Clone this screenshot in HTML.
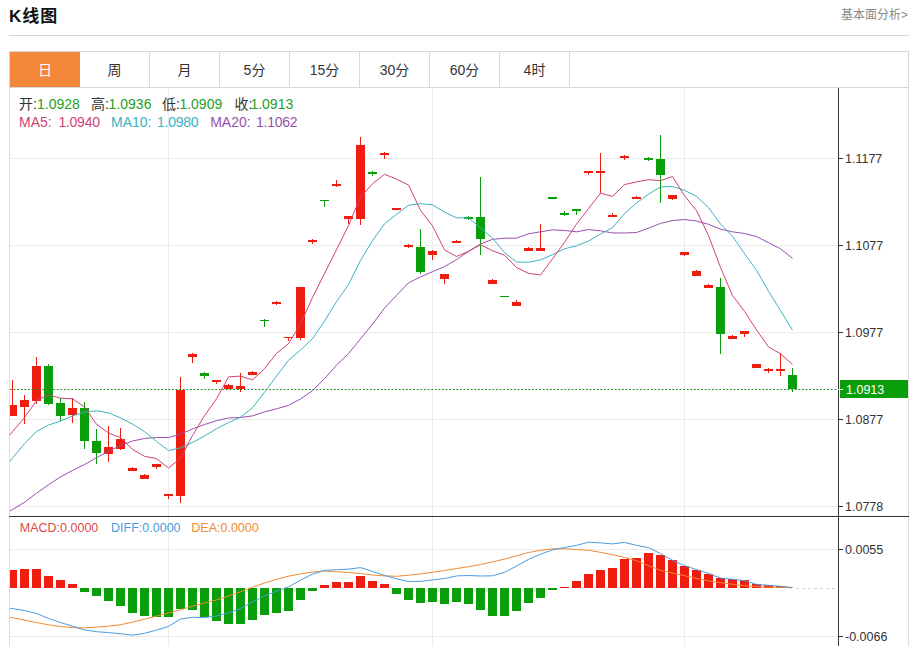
<!DOCTYPE html>
<html lang="zh-CN">
<head>
<meta charset="utf-8">
<title>K线图</title>
<style>
html,body{margin:0;padding:0;background:#fff;}
body{width:917px;height:646px;overflow:hidden;position:relative;font-family:"Liberation Sans","Noto Sans CJK SC",sans-serif;}
.title{position:absolute;left:9px;top:5px;letter-spacing:1px;font-size:17px;font-weight:bold;color:#111;line-height:24px;white-space:nowrap;}
.more{position:absolute;right:9px;top:7px;font-size:12px;color:#888;line-height:16px;white-space:nowrap;}
.hr{position:absolute;left:9px;top:35px;width:900px;height:1px;background:#d6d6d6;}
.tabs{position:absolute;left:9px;top:51px;width:898px;height:35px;border:1px solid #d8d8d8;}
.tab{position:absolute;top:0;height:35px;width:70px;text-align:center;line-height:37px;font-size:14px;color:#333;border-right:1px solid #d8d8d8;box-sizing:border-box;}
.tab.on{background:#f3883a;color:#fff;border-right:none;}
.frame{position:absolute;left:9px;top:87px;width:898px;height:570px;border-left:1px solid #dcdcdc;border-right:1px solid #dcdcdc;}
.lg text{font-family:"Liberation Sans","Noto Sans CJK SC",sans-serif;}
.ax{font-family:"Liberation Sans",sans-serif;font-size:12.5px;fill:#333;}
</style>
</head>
<body>
<div class="title">K线图</div>
<div class="more">基本面分析&gt;</div>
<div class="hr"></div>
<div class="frame"></div>
<div class="tabs">
<div class="tab on" style="left:0">日</div>
<div class="tab" style="left:70px">周</div>
<div class="tab" style="left:140px">月</div>
<div class="tab" style="left:210px">5分</div>
<div class="tab" style="left:280px">15分</div>
<div class="tab" style="left:350px">30分</div>
<div class="tab" style="left:420px">60分</div>
<div class="tab" style="left:490px">4时</div>
</div>
<svg width="917" height="646" viewBox="0 0 917 646" style="position:absolute;left:0;top:0"><defs><clipPath id="cp"><rect x="10" y="88" width="828" height="558"/></clipPath></defs><g clip-path="url(#cp)" shape-rendering="crispEdges"><line x1="10" y1="158.5" x2="843" y2="158.5" stroke="#ebebeb" />
<line x1="10" y1="245.5" x2="843" y2="245.5" stroke="#ebebeb" />
<line x1="10" y1="332.5" x2="843" y2="332.5" stroke="#ebebeb" />
<line x1="10" y1="419.5" x2="843" y2="419.5" stroke="#ebebeb" />
<line x1="10" y1="506.5" x2="843" y2="506.5" stroke="#ebebeb" />
<line x1="10" y1="549.5" x2="843" y2="549.5" stroke="#ebebeb" />
<line x1="10" y1="636.5" x2="843" y2="636.5" stroke="#ebebeb" />
<line x1="168.5" y1="88" x2="168.5" y2="646" stroke="#e9ecf1" />
<line x1="432.5" y1="88" x2="432.5" y2="646" stroke="#e9ecf1" />
<line x1="684.5" y1="88" x2="684.5" y2="646" stroke="#e9ecf1" />
<rect x="12.0" y="380" width="1" height="36" fill="#ee1d10"/>
<rect x="8.0" y="405" width="9" height="11" fill="#ee1d10"/>
<rect x="24.0" y="395" width="1" height="29" fill="#ee1d10"/>
<rect x="20.0" y="400" width="9" height="7" fill="#ee1d10"/>
<rect x="36.0" y="357" width="1" height="47" fill="#ee1d10"/>
<rect x="32.0" y="366" width="9" height="35" fill="#ee1d10"/>
<rect x="48.0" y="364" width="1" height="41" fill="#0a9e0a"/>
<rect x="44.0" y="366" width="9" height="38" fill="#0a9e0a"/>
<rect x="60.0" y="398" width="1" height="23" fill="#0a9e0a"/>
<rect x="56.0" y="403" width="9" height="13" fill="#0a9e0a"/>
<rect x="72.0" y="398" width="1" height="25" fill="#ee1d10"/>
<rect x="68.0" y="408" width="9" height="7" fill="#ee1d10"/>
<rect x="84.0" y="402" width="1" height="47" fill="#0a9e0a"/>
<rect x="80.0" y="408" width="9" height="33" fill="#0a9e0a"/>
<rect x="96.0" y="429" width="1" height="35" fill="#0a9e0a"/>
<rect x="92.0" y="441" width="9" height="12" fill="#0a9e0a"/>
<rect x="108.0" y="426" width="1" height="36" fill="#ee1d10"/>
<rect x="104.0" y="447" width="9" height="7" fill="#ee1d10"/>
<rect x="120.0" y="428" width="1" height="22" fill="#ee1d10"/>
<rect x="116.0" y="439" width="9" height="10" fill="#ee1d10"/>
<rect x="132.0" y="467" width="1" height="4" fill="#ee1d10"/>
<rect x="128.0" y="468" width="9" height="3" fill="#ee1d10"/>
<rect x="144.0" y="474" width="1" height="5" fill="#ee1d10"/>
<rect x="140.0" y="475" width="9" height="4" fill="#ee1d10"/>
<rect x="156.0" y="464" width="1" height="5" fill="#ee1d10"/>
<rect x="152.0" y="464" width="9" height="3" fill="#ee1d10"/>
<rect x="168.0" y="494" width="1" height="5" fill="#ee1d10"/>
<rect x="164.0" y="494" width="9" height="2" fill="#ee1d10"/>
<rect x="180.0" y="377" width="1" height="126" fill="#ee1d10"/>
<rect x="176.0" y="390" width="9" height="106" fill="#ee1d10"/>
<rect x="192.0" y="353" width="1" height="10" fill="#ee1d10"/>
<rect x="188.0" y="354" width="9" height="3" fill="#ee1d10"/>
<rect x="204.0" y="372" width="1" height="7" fill="#0a9e0a"/>
<rect x="200.0" y="373" width="9" height="3" fill="#0a9e0a"/>
<rect x="216.0" y="380" width="1" height="4" fill="#ee1d10"/>
<rect x="212.0" y="380" width="9" height="2" fill="#ee1d10"/>
<rect x="228.0" y="384" width="1" height="5" fill="#ee1d10"/>
<rect x="224.0" y="385" width="9" height="4" fill="#ee1d10"/>
<rect x="240.0" y="373" width="1" height="19" fill="#ee1d10"/>
<rect x="236.0" y="386" width="9" height="3" fill="#ee1d10"/>
<rect x="252.0" y="371" width="1" height="4" fill="#ee1d10"/>
<rect x="248.0" y="372" width="9" height="3" fill="#ee1d10"/>
<rect x="264.0" y="319" width="1" height="8" fill="#0a9e0a"/>
<rect x="260.0" y="320" width="9" height="1" fill="#0a9e0a"/>
<rect x="276.0" y="301" width="1" height="4" fill="#ee1d10"/>
<rect x="272.0" y="302" width="9" height="2" fill="#ee1d10"/>
<rect x="288.0" y="337" width="1" height="4" fill="#ee1d10"/>
<rect x="284.0" y="337" width="9" height="1" fill="#ee1d10"/>
<rect x="300.0" y="287" width="1" height="53" fill="#ee1d10"/>
<rect x="296.0" y="287" width="9" height="51" fill="#ee1d10"/>
<rect x="312.0" y="239" width="1" height="5" fill="#ee1d10"/>
<rect x="308.0" y="240" width="9" height="2" fill="#ee1d10"/>
<rect x="324.0" y="200" width="1" height="7" fill="#0a9e0a"/>
<rect x="320.0" y="200" width="9" height="1" fill="#0a9e0a"/>
<rect x="336.0" y="180" width="1" height="7" fill="#ee1d10"/>
<rect x="332.0" y="184" width="9" height="2" fill="#ee1d10"/>
<rect x="348.0" y="216" width="1" height="8" fill="#ee1d10"/>
<rect x="344.0" y="216" width="9" height="3" fill="#ee1d10"/>
<rect x="360.0" y="137" width="1" height="88" fill="#ee1d10"/>
<rect x="356.0" y="145" width="9" height="74" fill="#ee1d10"/>
<rect x="372.0" y="171" width="1" height="5" fill="#0a9e0a"/>
<rect x="368.0" y="172" width="9" height="2" fill="#0a9e0a"/>
<rect x="384.0" y="152" width="1" height="7" fill="#ee1d10"/>
<rect x="380.0" y="153" width="9" height="2" fill="#ee1d10"/>
<rect x="396.0" y="208" width="1" height="2" fill="#ee1d10"/>
<rect x="392.0" y="208" width="9" height="2" fill="#ee1d10"/>
<rect x="408.0" y="244" width="1" height="4" fill="#ee1d10"/>
<rect x="404.0" y="245" width="9" height="2" fill="#ee1d10"/>
<rect x="420.0" y="229" width="1" height="45" fill="#0a9e0a"/>
<rect x="416.0" y="247" width="9" height="25" fill="#0a9e0a"/>
<rect x="432.0" y="250" width="1" height="10" fill="#ee1d10"/>
<rect x="428.0" y="251" width="9" height="4" fill="#ee1d10"/>
<rect x="444.0" y="274" width="1" height="10" fill="#ee1d10"/>
<rect x="440.0" y="274" width="9" height="5" fill="#ee1d10"/>
<rect x="456.0" y="240" width="1" height="3" fill="#ee1d10"/>
<rect x="452.0" y="241" width="9" height="2" fill="#ee1d10"/>
<rect x="468.0" y="216" width="1" height="4" fill="#0a9e0a"/>
<rect x="464.0" y="217" width="9" height="2" fill="#0a9e0a"/>
<rect x="480.0" y="177" width="1" height="78" fill="#0a9e0a"/>
<rect x="476.0" y="217" width="9" height="22" fill="#0a9e0a"/>
<rect x="492.0" y="279" width="1" height="5" fill="#ee1d10"/>
<rect x="488.0" y="280" width="9" height="4" fill="#ee1d10"/>
<rect x="504.0" y="296" width="1" height="1" fill="#0a9e0a"/>
<rect x="500.0" y="296" width="9" height="1" fill="#0a9e0a"/>
<rect x="516.0" y="300" width="1" height="6" fill="#ee1d10"/>
<rect x="512.0" y="302" width="9" height="4" fill="#ee1d10"/>
<rect x="528.0" y="247" width="1" height="4" fill="#ee1d10"/>
<rect x="524.0" y="248" width="9" height="3" fill="#ee1d10"/>
<rect x="540.0" y="224" width="1" height="27" fill="#ee1d10"/>
<rect x="536.0" y="248" width="9" height="3" fill="#ee1d10"/>
<rect x="552.0" y="197" width="1" height="2" fill="#0a9e0a"/>
<rect x="548.0" y="197" width="9" height="2" fill="#0a9e0a"/>
<rect x="564.0" y="211" width="1" height="5" fill="#0a9e0a"/>
<rect x="560.0" y="213" width="9" height="2" fill="#0a9e0a"/>
<rect x="576.0" y="209" width="1" height="6" fill="#0a9e0a"/>
<rect x="572.0" y="209" width="9" height="2" fill="#0a9e0a"/>
<rect x="588.0" y="171" width="1" height="4" fill="#ee1d10"/>
<rect x="584.0" y="171" width="9" height="2" fill="#ee1d10"/>
<rect x="600.0" y="153" width="1" height="40" fill="#ee1d10"/>
<rect x="596.0" y="171" width="9" height="2" fill="#ee1d10"/>
<rect x="612.0" y="213" width="1" height="4" fill="#ee1d10"/>
<rect x="608.0" y="215" width="9" height="2" fill="#ee1d10"/>
<rect x="624.0" y="155" width="1" height="5" fill="#ee1d10"/>
<rect x="620.0" y="156" width="9" height="2" fill="#ee1d10"/>
<rect x="636.0" y="196" width="1" height="3" fill="#ee1d10"/>
<rect x="632.0" y="197" width="9" height="2" fill="#ee1d10"/>
<rect x="648.0" y="157" width="1" height="4" fill="#0a9e0a"/>
<rect x="644.0" y="158" width="9" height="2" fill="#0a9e0a"/>
<rect x="660.0" y="135" width="1" height="68" fill="#0a9e0a"/>
<rect x="656.0" y="159" width="9" height="16" fill="#0a9e0a"/>
<rect x="672.0" y="195" width="1" height="5" fill="#ee1d10"/>
<rect x="668.0" y="195" width="9" height="4" fill="#ee1d10"/>
<rect x="684.0" y="252" width="1" height="4" fill="#ee1d10"/>
<rect x="680.0" y="252" width="9" height="3" fill="#ee1d10"/>
<rect x="696.0" y="270" width="1" height="6" fill="#ee1d10"/>
<rect x="692.0" y="271" width="9" height="5" fill="#ee1d10"/>
<rect x="708.0" y="284" width="1" height="4" fill="#ee1d10"/>
<rect x="704.0" y="285" width="9" height="3" fill="#ee1d10"/>
<rect x="720.0" y="278" width="1" height="76" fill="#0a9e0a"/>
<rect x="716.0" y="287" width="9" height="47" fill="#0a9e0a"/>
<rect x="732.0" y="335" width="1" height="4" fill="#ee1d10"/>
<rect x="728.0" y="336" width="9" height="3" fill="#ee1d10"/>
<rect x="744.0" y="331" width="1" height="6" fill="#ee1d10"/>
<rect x="740.0" y="331" width="9" height="3" fill="#ee1d10"/>
<rect x="756.0" y="364" width="1" height="4" fill="#ee1d10"/>
<rect x="752.0" y="364" width="9" height="4" fill="#ee1d10"/>
<rect x="768.0" y="368" width="1" height="5" fill="#ee1d10"/>
<rect x="764.0" y="369" width="9" height="2" fill="#ee1d10"/>
<rect x="780.0" y="353" width="1" height="23" fill="#ee1d10"/>
<rect x="776.0" y="369" width="9" height="2" fill="#ee1d10"/>
<rect x="792.0" y="368" width="1" height="24" fill="#0a9e0a"/>
<rect x="788.0" y="375" width="9" height="14" fill="#0a9e0a"/>
<rect x="8.0" y="570" width="9" height="18" fill="#ee1d10"/>
<rect x="20.0" y="569" width="9" height="19" fill="#ee1d10"/>
<rect x="32.0" y="569" width="9" height="19" fill="#ee1d10"/>
<rect x="44.0" y="576" width="9" height="12" fill="#ee1d10"/>
<rect x="56.0" y="580" width="9" height="8" fill="#ee1d10"/>
<rect x="68.0" y="584" width="9" height="4" fill="#ee1d10"/>
<rect x="80.0" y="588" width="9" height="4" fill="#0a9e0a"/>
<rect x="92.0" y="588" width="9" height="8" fill="#0a9e0a"/>
<rect x="104.0" y="588" width="9" height="13" fill="#0a9e0a"/>
<rect x="116.0" y="588" width="9" height="18" fill="#0a9e0a"/>
<rect x="128.0" y="588" width="9" height="25" fill="#0a9e0a"/>
<rect x="140.0" y="588" width="9" height="28" fill="#0a9e0a"/>
<rect x="152.0" y="588" width="9" height="29" fill="#0a9e0a"/>
<rect x="164.0" y="588" width="9" height="29" fill="#0a9e0a"/>
<rect x="176.0" y="588" width="9" height="21" fill="#0a9e0a"/>
<rect x="188.0" y="588" width="9" height="22" fill="#0a9e0a"/>
<rect x="200.0" y="588" width="9" height="29" fill="#0a9e0a"/>
<rect x="212.0" y="588" width="9" height="33" fill="#0a9e0a"/>
<rect x="224.0" y="588" width="9" height="36" fill="#0a9e0a"/>
<rect x="236.0" y="588" width="9" height="36" fill="#0a9e0a"/>
<rect x="248.0" y="588" width="9" height="32" fill="#0a9e0a"/>
<rect x="260.0" y="588" width="9" height="27" fill="#0a9e0a"/>
<rect x="272.0" y="588" width="9" height="25" fill="#0a9e0a"/>
<rect x="284.0" y="588" width="9" height="23" fill="#0a9e0a"/>
<rect x="296.0" y="588" width="9" height="12" fill="#0a9e0a"/>
<rect x="308.0" y="588" width="9" height="3" fill="#0a9e0a"/>
<rect x="320.0" y="585" width="9" height="3" fill="#ee1d10"/>
<rect x="332.0" y="582" width="9" height="6" fill="#ee1d10"/>
<rect x="344.0" y="582" width="9" height="6" fill="#ee1d10"/>
<rect x="356.0" y="576" width="9" height="12" fill="#ee1d10"/>
<rect x="368.0" y="581" width="9" height="7" fill="#ee1d10"/>
<rect x="380.0" y="584" width="9" height="4" fill="#ee1d10"/>
<rect x="392.0" y="588" width="9" height="6" fill="#0a9e0a"/>
<rect x="404.0" y="588" width="9" height="12" fill="#0a9e0a"/>
<rect x="416.0" y="588" width="9" height="15" fill="#0a9e0a"/>
<rect x="428.0" y="588" width="9" height="14" fill="#0a9e0a"/>
<rect x="440.0" y="588" width="9" height="16" fill="#0a9e0a"/>
<rect x="452.0" y="588" width="9" height="14" fill="#0a9e0a"/>
<rect x="464.0" y="588" width="9" height="16" fill="#0a9e0a"/>
<rect x="476.0" y="588" width="9" height="22" fill="#0a9e0a"/>
<rect x="488.0" y="588" width="9" height="28" fill="#0a9e0a"/>
<rect x="500.0" y="588" width="9" height="28" fill="#0a9e0a"/>
<rect x="512.0" y="588" width="9" height="23" fill="#0a9e0a"/>
<rect x="524.0" y="588" width="9" height="15" fill="#0a9e0a"/>
<rect x="536.0" y="588" width="9" height="10" fill="#0a9e0a"/>
<rect x="548.0" y="588" width="9" height="2" fill="#0a9e0a"/>
<rect x="560.0" y="587" width="9" height="1" fill="#ee1d10"/>
<rect x="572.0" y="581" width="9" height="7" fill="#ee1d10"/>
<rect x="584.0" y="574" width="9" height="14" fill="#ee1d10"/>
<rect x="596.0" y="570" width="9" height="18" fill="#ee1d10"/>
<rect x="608.0" y="568" width="9" height="20" fill="#ee1d10"/>
<rect x="620.0" y="559" width="9" height="29" fill="#ee1d10"/>
<rect x="632.0" y="558" width="9" height="30" fill="#ee1d10"/>
<rect x="644.0" y="553" width="9" height="35" fill="#ee1d10"/>
<rect x="656.0" y="555" width="9" height="33" fill="#ee1d10"/>
<rect x="668.0" y="560" width="9" height="28" fill="#ee1d10"/>
<rect x="680.0" y="566" width="9" height="22" fill="#ee1d10"/>
<rect x="692.0" y="570" width="9" height="18" fill="#ee1d10"/>
<rect x="704.0" y="574" width="9" height="14" fill="#ee1d10"/>
<rect x="716.0" y="578" width="9" height="10" fill="#ee1d10"/>
<rect x="728.0" y="579" width="9" height="9" fill="#ee1d10"/>
<rect x="740.0" y="580" width="9" height="8" fill="#ee1d10"/>
<rect x="752.0" y="584" width="9" height="4" fill="#ee1d10"/>
<rect x="764.0" y="585" width="9" height="3" fill="#ee1d10"/>
<rect x="776.0" y="586" width="9" height="2" fill="#ee1d10"/>
<line x1="796" y1="588.5" x2="838" y2="588.5" stroke="#c8d0dc" stroke-dasharray="3,3" /></g><polyline clip-path="url(#cp)" points="0.5,516.9 12.5,509.6 24.5,502.3 36.5,493.2 48.5,484.8 60.5,476.9 72.5,470.5 84.5,464.5 96.5,457.7 108.5,451.3 120.5,445.5 132.5,441.0 144.5,438.5 156.5,437.5 168.5,437.5 180.5,434.2 192.5,429.0 204.5,424.5 216.5,420.7 228.5,418.0 240.5,417.5 252.5,415.9 264.5,411.9 276.5,408.8 288.5,405.4 300.5,399.0 312.5,390.6 324.5,378.6 336.5,365.1 348.5,353.6 360.5,338.9 372.5,324.2 384.5,308.1 396.5,295.3 408.5,282.8 420.5,276.9 432.5,271.7 444.5,266.6 456.5,259.7 468.5,251.4 480.5,244.0 492.5,239.4 504.5,238.2 516.5,238.2 528.5,233.8 540.5,231.8 552.5,229.8 564.5,230.5 576.5,231.8 588.5,229.6 600.5,230.8 612.5,232.9 624.5,233.0 636.5,232.5 648.5,228.2 660.5,223.4 672.5,220.6 684.5,219.5 696.5,221.0 708.5,224.3 720.5,229.1 732.5,231.8 744.5,233.5 756.5,236.6 768.5,242.7 780.5,248.8 792.5,258.3" fill="none" stroke="#9a4fae" stroke-width="1" stroke-linejoin="round"/>
<polyline clip-path="url(#cp)" points="0.5,472.6 12.5,458.1 24.5,443.6 36.5,431.5 48.5,425.0 60.5,421.0 72.5,416.0 84.5,412.0 96.5,410.8 108.5,412.9 120.5,417.9 132.5,424.1 144.5,431.6 156.5,441.4 168.5,450.5 180.5,447.9 192.5,442.5 204.5,436.0 216.5,428.7 228.5,422.5 240.5,417.2 252.5,407.7 264.5,392.3 276.5,376.1 288.5,360.3 300.5,350.0 312.5,338.7 324.5,321.1 336.5,301.6 348.5,284.6 360.5,260.5 372.5,240.6 384.5,223.9 396.5,214.4 408.5,205.3 420.5,203.7 432.5,204.8 444.5,212.1 456.5,217.8 468.5,218.1 480.5,227.6 492.5,238.2 504.5,252.6 516.5,262.0 528.5,262.3 540.5,259.9 552.5,254.7 564.5,248.8 576.5,245.8 588.5,241.0 600.5,234.1 612.5,227.6 624.5,213.5 636.5,203.0 648.5,194.2 660.5,186.9 672.5,186.5 684.5,190.2 696.5,196.3 708.5,207.6 720.5,224.0 732.5,236.1 744.5,253.6 756.5,270.3 768.5,291.2 780.5,310.6 792.5,330.1" fill="none" stroke="#3cb2c2" stroke-width="1" stroke-linejoin="round"/>
<polyline clip-path="url(#cp)" points="0.5,445.9 12.5,431.7 24.5,417.5 36.5,400.8 48.5,394.7 60.5,398.2 72.5,398.8 84.5,406.9 96.5,424.3 108.5,433.0 120.5,437.5 132.5,449.4 144.5,456.3 156.5,458.6 168.5,468.0 180.5,458.3 192.5,435.5 204.5,415.7 216.5,398.8 228.5,376.9 240.5,376.1 252.5,379.9 264.5,368.8 276.5,353.4 288.5,343.7 300.5,324.0 312.5,297.5 324.5,273.5 336.5,249.7 348.5,225.6 360.5,197.1 372.5,183.8 384.5,174.3 396.5,179.1 408.5,185.0 420.5,210.3 432.5,225.8 444.5,249.9 456.5,256.5 468.5,251.3 480.5,244.8 492.5,250.7 504.5,255.2 516.5,267.5 528.5,273.3 540.5,275.0 552.5,258.8 564.5,242.4 576.5,224.1 588.5,208.7 600.5,193.2 612.5,196.4 624.5,184.6 636.5,181.9 648.5,179.7 660.5,180.6 672.5,176.6 684.5,195.8 696.5,210.6 708.5,235.5 720.5,267.4 732.5,295.6 744.5,311.3 756.5,329.9 768.5,346.9 780.5,353.8 792.5,364.6" fill="none" stroke="#d04274" stroke-width="1" stroke-linejoin="round"/>
<polyline clip-path="url(#cp)" points="0.5,615.5 12.5,617.8 24.5,620.1 36.5,622.5 48.5,624.8 60.5,626.5 72.5,627.6 84.5,627.9 96.5,627.1 108.5,626.1 120.5,624.8 132.5,622.1 144.5,619.2 156.5,616.1 168.5,612.9 180.5,609.7 192.5,606.3 204.5,603.0 216.5,599.9 228.5,596.0 240.5,591.9 252.5,587.2 264.5,583.0 276.5,579.3 288.5,576.2 300.5,573.9 312.5,572.1 324.5,571.1 336.5,571.6 348.5,572.5 360.5,573.6 372.5,575.0 384.5,575.9 396.5,576.3 408.5,575.2 420.5,573.9 432.5,572.3 444.5,570.5 456.5,568.6 468.5,566.7 480.5,564.5 492.5,561.9 504.5,559.1 516.5,555.9 528.5,552.5 540.5,550.4 552.5,548.8 564.5,548.8 576.5,549.5 588.5,550.3 600.5,552.3 612.5,554.8 624.5,557.4 636.5,560.7 648.5,565.7 660.5,570.3 672.5,573.1 684.5,575.7 696.5,578.4 708.5,580.9 720.5,582.7 732.5,584.3 744.5,585.7 756.5,586.5 768.5,587.1 780.5,587.4 792.5,587.8" fill="none" stroke="#f08a30" stroke-width="1" stroke-linejoin="round"/>
<polyline clip-path="url(#cp)" points="0.5,607.1 12.5,608.6 24.5,610.5 36.5,613.5 48.5,618.4 60.5,622.5 72.5,626.2 84.5,629.9 96.5,631.7 108.5,632.6 120.5,633.7 132.5,635.2 144.5,633.3 156.5,630.1 168.5,626.4 180.5,619.0 192.5,617.3 204.5,617.7 216.5,615.9 228.5,612.9 240.5,608.6 252.5,602.0 264.5,595.8 276.5,591.2 288.5,586.9 300.5,580.1 312.5,574.2 324.5,570.4 336.5,569.6 348.5,569.2 360.5,567.6 372.5,571.4 384.5,575.4 396.5,578.8 408.5,581.5 420.5,581.4 432.5,579.9 444.5,578.5 456.5,575.9 468.5,575.5 480.5,576.0 492.5,575.8 504.5,572.3 516.5,566.1 528.5,559.4 540.5,554.2 552.5,549.9 564.5,547.5 576.5,545.4 588.5,542.2 600.5,542.9 612.5,543.9 624.5,542.4 636.5,545.4 648.5,547.6 660.5,553.6 672.5,560.2 684.5,565.7 696.5,569.6 708.5,573.5 720.5,578.0 732.5,579.3 744.5,580.7 756.5,584.4 768.5,585.3 780.5,586.4 792.5,587.5" fill="none" stroke="#4a9be0" stroke-width="1" stroke-linejoin="round"/><line x1="10" y1="389.5" x2="838" y2="389.5" stroke="#1a8a1a" stroke-width="1" stroke-dasharray="1.8,1.8" /><g shape-rendering="crispEdges"><line x1="838.5" y1="88" x2="838.5" y2="646" stroke="#333"/>
<line x1="9" y1="516.5" x2="909" y2="516.5" stroke="#333"/>
<line x1="838" y1="158.5" x2="843" y2="158.5" stroke="#333"/>
<text x="845" y="162.7" class="ax">1.1177</text>
<line x1="838" y1="245.5" x2="843" y2="245.5" stroke="#333"/>
<text x="845" y="249.7" class="ax">1.1077</text>
<line x1="838" y1="332.5" x2="843" y2="332.5" stroke="#333"/>
<text x="845" y="336.7" class="ax">1.0977</text>
<line x1="838" y1="419.5" x2="843" y2="419.5" stroke="#333"/>
<text x="845" y="423.7" class="ax">1.0877</text>
<line x1="838" y1="506.5" x2="843" y2="506.5" stroke="#333"/>
<text x="845" y="510.7" class="ax">1.0778</text>
<line x1="838" y1="549.5" x2="843" y2="549.5" stroke="#333"/>
<text x="845" y="553.7" class="ax">0.0055</text>
<line x1="838" y1="636.5" x2="843" y2="636.5" stroke="#333"/>
<text x="845" y="640.7" class="ax">-0.0066</text>
<rect x="840" y="380" width="68" height="18" fill="#0a9e0a"/>
<line x1="838" y1="389.5" x2="843" y2="389.5" stroke="#fff"/>
<text x="846" y="393.7" class="ax" style="fill:#fff">1.0913</text></g><g class="lg"><text x="19" y="109" fill="#333" style="font-size:14px">开:</text><text x="37" y="109" fill="#1fa01f" style="font-size:14px">1.0928</text><text x="91" y="109" fill="#333" style="font-size:14px">高:</text><text x="108.6" y="109" fill="#1fa01f" style="font-size:14px">1.0936</text><text x="162" y="109" fill="#333" style="font-size:14px">低:</text><text x="179.4" y="109" fill="#1fa01f" style="font-size:14px">1.0909</text><text x="234.5" y="109" fill="#333" style="font-size:14px">收:</text><text x="250.4" y="109" fill="#1fa01f" style="font-size:14px">1.0913</text><text x="19" y="127" fill="#d04274" style="font-size:14px">MA5:</text><text x="58.4" y="127" fill="#d04274" style="font-size:14px;letter-spacing:-0.25px">1.0940</text><text x="111" y="127" fill="#3cb2c2" style="font-size:14px">MA10:</text><text x="157" y="127" fill="#3cb2c2" style="font-size:14px;letter-spacing:-0.25px">1.0980</text><text x="210.2" y="127" fill="#9a4fae" style="font-size:14px">MA20:</text><text x="256" y="127" fill="#9a4fae" style="font-size:14px;letter-spacing:-0.25px">1.1062</text><text x="19.8" y="532" fill="#e04848" style="font-size:12.5px">MACD:0.0000</text><text x="111.1" y="532" fill="#4a9be0" style="font-size:12.5px">DIFF:0.0000</text><text x="191.3" y="532" fill="#ef8a34" style="font-size:12.5px">DEA:0.0000</text></g></svg>
</body>
</html>
